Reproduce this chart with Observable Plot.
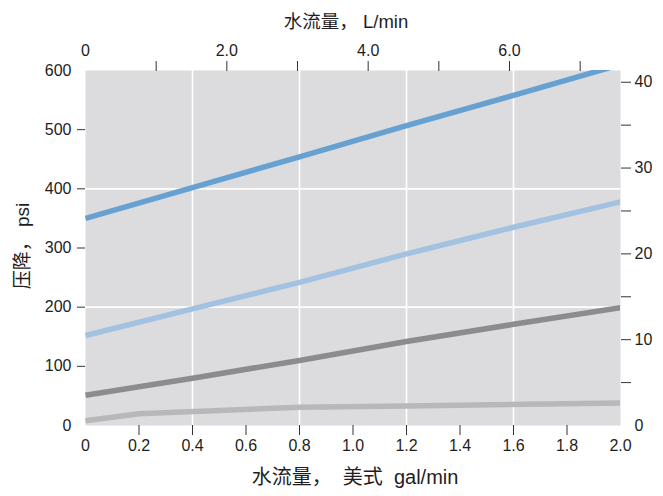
<!DOCTYPE html>
<html><head><meta charset="utf-8">
<script src="https://cdn.jsdelivr.net/npm/d3@7"></script>
<script src="https://cdn.jsdelivr.net/npm/@observablehq/plot@0.6"></script>
<style>
body{margin:0;background:#fff}
svg{font-family:"Liberation Sans","Noto Sans CJK SC",sans-serif}
</style>
</head><body><div id="chart"></div>
<script>
// Flow in US gal/min (x) and pressure drop in psi (y) for each curve
const flowDarkBlue = [0, 0.4, 0.8, 1.2, 1.6, 2.0];
const psiDarkBlue  = [350, 402, 454, 507, 558, 610];
const flowLightBlue = [0, 0.4, 0.8, 1.2, 1.6, 2.0];
const psiLightBlue  = [152, 197, 242, 290, 335, 378];
const flowDarkGray = [0, 0.4, 0.8, 1.2, 1.6, 2.0];
const psiDarkGray  = [51, 80, 110, 142, 171, 199];
const flowLightGray = [0, 0.2, 0.8, 1.2, 2.0];
const psiLightGray  = [8, 20, 31, 33, 38];
const seriesColors = ["#66a1d2", "#a3c2e2", "#8b8c8e", "#b7b8ba"];

// Axis ticks
const gpmTicks = [0.2, 0.4, 0.6, 0.8, 1.0, 1.2, 1.4, 1.6, 1.8];
const gpmEndTicks = [0, 2.0];
const psiTicks = [100, 200, 300, 400, 500];
const psiEndTicks = [0, 600];
const lpmTicks = [1, 2, 3, 4, 5, 6, 7];
const lpmLabeled = [2, 4, 6];
const barTicks = [5, 10, 15, 20, 25, 30, 35, 40];
const barLabeled = [10, 20, 30, 40];
const gridX = [0.4, 0.8, 1.2, 1.6];
const gridY = [200, 400];

const titleTop = "水流量， L/min";
const titleBottom = "水流量，  美式  gal/min";
const titleLeft = "压降， psi";

const L_PER_GAL = 3.78541;
const PSI_PER_BAR = 14.5038;

const mk = (fx, py, k) => fx.map((f, i) => ({flow: f, psi: py[i], k}));
const data = [
  ...mk(flowDarkBlue, psiDarkBlue, 0),
  ...mk(flowLightBlue, psiLightBlue, 1),
  ...mk(flowDarkGray, psiDarkGray, 2),
  ...mk(flowLightGray, psiLightGray, 3)
];

const fs = 16;
const txt = "#1e1e1e";
const tk = "#333";

const chart = Plot.plot({
  width: 663,
  height: 496,
  marginLeft: 85,
  marginRight: 43,
  marginTop: 70,
  marginBottom: 71,
  style: {fontFamily: '"Liberation Sans","Noto Sans CJK SC",sans-serif', background: "#fff"},
  x: {domain: [0, 2]},
  y: {domain: [0, 600]},
  color: {domain: [0, 1, 2, 3], range: seriesColors},
  marks: [
    Plot.frame({fill: "#dcdcde", stroke: null}),
    Plot.gridX(gridX, {stroke: "#fff", strokeOpacity: 1, strokeWidth: 1.6}),
    Plot.gridY(gridY, {stroke: "#fff", strokeOpacity: 1, strokeWidth: 1.6}),
    Plot.line(data, {x: "flow", y: "psi", z: "k", stroke: "k", strokeWidth: 5.5, strokeLinecap: "butt", strokeLinejoin: "round", clip: true}),
    // bottom axis (gal/min)
    Plot.axisX(gpmTicks, {anchor: "bottom", tickSize: 10, tickPadding: 4, fontSize: fs, stroke: tk, fill: txt, tickFormat: d => d.toFixed(1), label: null}),
    Plot.axisX(gpmEndTicks, {anchor: "bottom", tickSize: 0, tickPadding: 14, fontSize: fs, fill: txt, tickFormat: d => d === 0 ? "0" : d.toFixed(1), label: null}),
    // top axis (L/min)
    Plot.axisX(lpmTicks.map(v => v / L_PER_GAL), {anchor: "top", tickSize: 10, tickPadding: 5, fontSize: fs, stroke: tk, fill: txt,
      tickFormat: d => { const v = Math.round(d * L_PER_GAL); return lpmLabeled.includes(v) ? v.toFixed(1) : ""; }, label: null}),
    Plot.axisX([0], {anchor: "top", tickSize: 0, tickPadding: 15, fontSize: fs, fill: txt, tickFormat: () => "0", label: null}),
    // left axis (psi)
    Plot.axisY(psiTicks, {anchor: "left", tickSize: 8, tickPadding: 6, fontSize: fs, stroke: tk, fill: txt, label: null}),
    Plot.axisY(psiEndTicks, {anchor: "left", tickSize: 0, tickPadding: 14, fontSize: fs, fill: txt, label: null}),
    // right axis (bar)
    Plot.axisY(barTicks.map(b => b * PSI_PER_BAR), {anchor: "right", tickSize: 10, tickPadding: 4, fontSize: fs, stroke: tk, fill: txt,
      tickFormat: d => { const v = Math.round(d / PSI_PER_BAR); return barLabeled.includes(v) ? String(v) : ""; }, label: null}),
    Plot.axisY([0], {anchor: "right", tickSize: 0, tickPadding: 14, fontSize: fs, fill: txt, tickFormat: () => "0", label: null}),
    // titles
    Plot.text([titleTop], {frameAnchor: "top", dx: -7, dy: -56, fontSize: 18.5, fill: txt, text: d => d}),
    Plot.text([titleBottom], {frameAnchor: "bottom", dx: 2, dy: 58, fontSize: 20, fill: txt, text: d => d}),
    Plot.text([titleLeft], {frameAnchor: "left", textAnchor: "middle", dx: -63, dy: -2, rotate: -90, fontSize: 19, fill: txt, text: d => d})
  ]
});
document.getElementById("chart").appendChild(chart);
</script>
</body></html>
